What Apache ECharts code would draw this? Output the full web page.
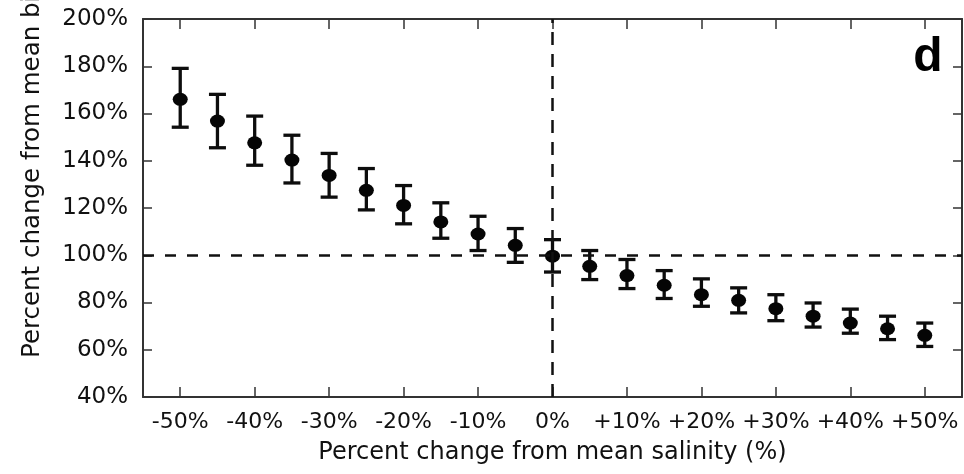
<!DOCTYPE html>
<html><head><meta charset="utf-8">
<script src="https://cdn.jsdelivr.net/npm/echarts@6/dist/echarts.min.js"></script>
<style>html,body{margin:0;padding:0;background:#fff}#c{width:964px;height:474px}</style>
</head><body><div id="c"></div>
<script>
const salinityChange = [-50,-45,-40,-35,-30,-25,-20,-15,-10,-5,0,5,10,15,20,25,30,35,40,45,50];
const meanBiomass = [166,156.8,147.6,140.3,133.8,127.5,121.1,114.1,109,104.2,99.6,95.3,91.4,87.3,83.3,80.9,77.4,74.2,71.3,68.9,66.1];
const upperBound = [179.1,168.1,158.9,150.8,143.1,136.7,129.5,122.2,116.5,111.3,106.6,102,98.2,93.5,90,86.2,83.3,79.8,77.2,74.2,71.3];
const lowerBound = [154.2,145.5,138.1,130.6,124.6,119.2,113.3,107.2,102,97,92.9,89.7,85.9,81.7,78.4,75.6,72.3,69.6,67,64.3,61.4];
const xTickValues = [-50,-40,-30,-20,-10,0,10,20,30,40,50];
const xTitle = 'Percent change from mean salinity (%)';
const yTitle = 'Percent change from mean biomass (%)';
const panelLabel = 'd';

const chart = echarts.init(document.getElementById('c'), null, {renderer:'canvas'});
const ink = '#111';
const axisCol = '#333';
const font = 'DejaVu Sans';
const baseAxis = {
  axisLine:{show:true, onZero:false, lineStyle:{color:axisCol, width:2}},
  splitLine:{show:false}
};
const option = {
  backgroundColor:'#fff',
  animation:false,
  grid:{left:143, top:19, right:2, bottom:77, containLabel:false},
  xAxis:[
    Object.assign({}, baseAxis, {
      type:'value', position:'bottom', min:-55, max:55,
      axisTick:{show:true, inside:true, length:10, customValues:xTickValues, lineStyle:{color:axisCol, width:1.5}},
      axisLabel:{customValues:xTickValues, margin:14, color:ink, fontFamily:font, fontSize:22,
        formatter:v=> (v>0?'+':'') + v + '%'},
      name:xTitle, nameLocation:'middle', nameGap:44,
      nameTextStyle:{color:ink, fontFamily:font, fontSize:24}
    }),
    Object.assign({}, baseAxis, {
      type:'value', position:'top', min:-55, max:55,
      axisTick:{show:true, inside:true, length:10, customValues:xTickValues, lineStyle:{color:axisCol, width:1.5}},
      axisLabel:{show:false}
    })
  ],
  yAxis:[
    Object.assign({}, baseAxis, {
      type:'value', position:'left', min:40, max:200, interval:20,
      axisTick:{show:true, inside:true, length:9, lineStyle:{color:axisCol, width:1.5}},
      axisLabel:{margin:15, color:ink, fontFamily:font, fontSize:23, formatter:'{value}%'}
    }),
    Object.assign({}, baseAxis, {
      type:'value', position:'right', min:40, max:200, interval:20,
      axisTick:{show:true, inside:true, length:9, lineStyle:{color:axisCol, width:1.5}},
      axisLabel:{show:false}
    })
  ],
  graphic:[
    {type:'text', x:33, y:358, rotation:Math.PI/2,
      style:{text:yTitle, fill:ink, font:'24.5px "DejaVu Sans"', align:'left', verticalAlign:'middle'}},
    {type:'text', x:928, y:58,
      style:{text:panelLabel, fill:'#000', font:'bold 48px "Liberation Sans"', align:'center', verticalAlign:'middle'}}
  ],
  series:[
    {
      type:'custom', xAxisIndex:0, yAxisIndex:0,
      data: salinityChange.map((x,i)=>[x, lowerBound[i], upperBound[i]]),
      encode:{x:0, y:[1,2]},
      renderItem:function(params, api){
        const x = api.value(0), lo = api.value(1), hi = api.value(2);
        const pT = api.coord([x, hi]), pB = api.coord([x, lo]);
        const hw = 8.5;
        const st = {stroke:'#0d0d0d', lineWidth:3.3};
        return {type:'group', children:[
          {type:'line', shape:{x1:pT[0], y1:pT[1], x2:pB[0], y2:pB[1]}, style:st},
          {type:'line', shape:{x1:pT[0]-hw, y1:pT[1], x2:pT[0]+hw, y2:pT[1]}, style:st},
          {type:'line', shape:{x1:pB[0]-hw, y1:pB[1], x2:pB[0]+hw, y2:pB[1]}, style:st}
        ]};
      },
      z:3
    },
    {
      type:'scatter', xAxisIndex:0, yAxisIndex:0,
      data: salinityChange.map((x,i)=>[x, meanBiomass[i]]),
      symbol:'circle', symbolSize:[15,13],
      itemStyle:{color:'#050505', opacity:1},
      z:4,
      markLine:{
        silent:true, symbol:['none','none'], label:{show:false},
        lineStyle:{color:'#111', width:2.5},
        data:[
          {yAxis:100, lineStyle:{type:[11,11], color:'#111', width:2.5}},
          {xAxis:0, lineStyle:{type:[13,9], color:'#111', width:2.5}}
        ]
      }
    }
  ]
};
chart.setOption(option);
</script>
</body></html>
